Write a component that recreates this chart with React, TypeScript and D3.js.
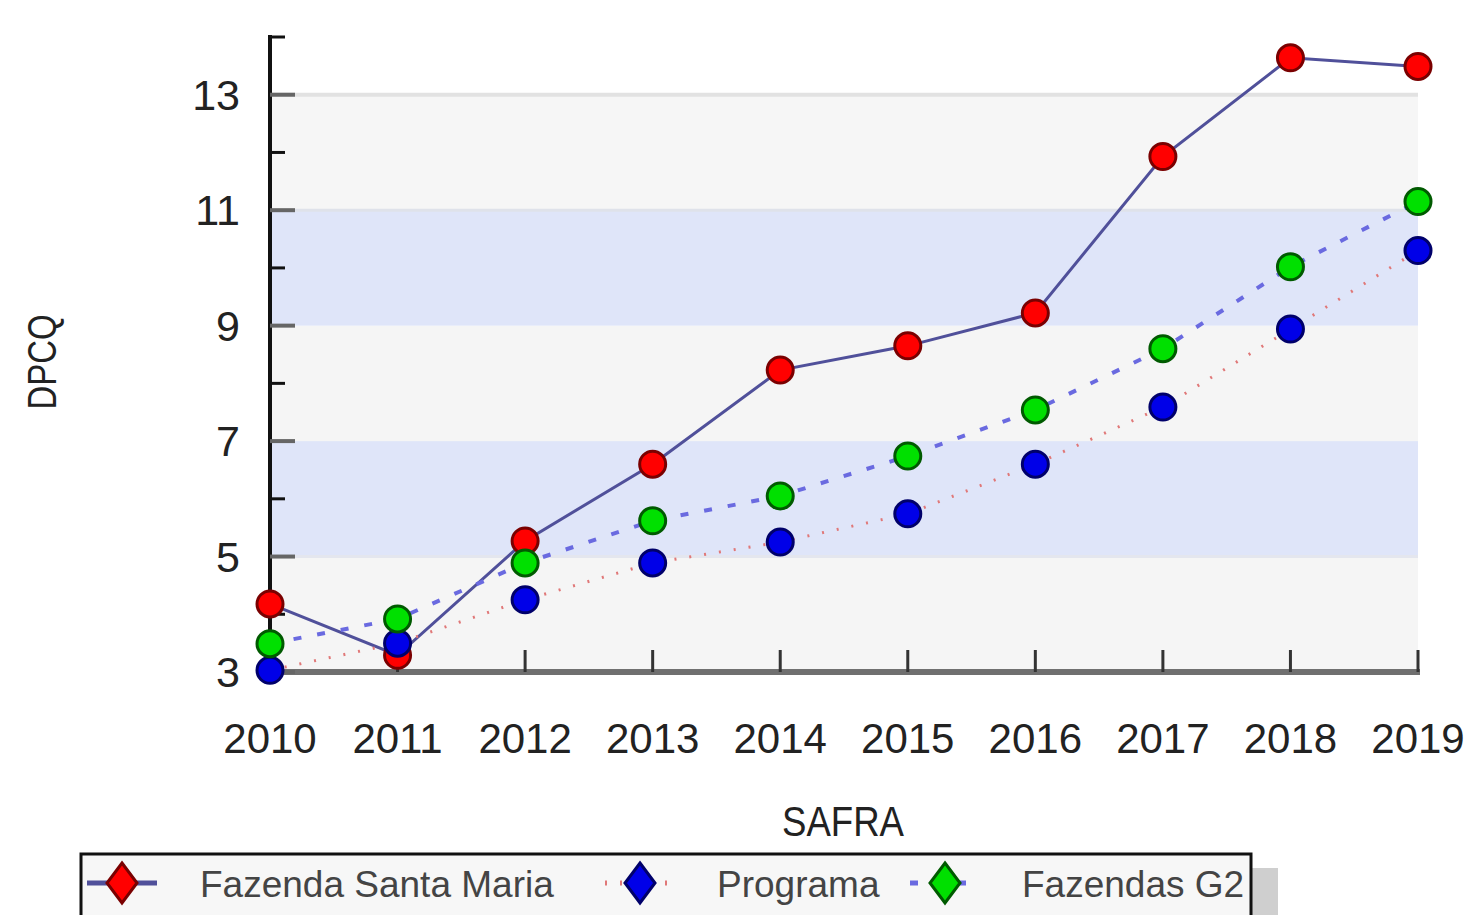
import React from 'react';
import * as d3 from 'd3';

const years = ['2010', '2011', '2012', '2013', '2014', '2015', '2016', '2017', '2018', '2019'];
const santaMaria = [4.18, 3.29, 5.27, 6.6, 8.23, 8.65, 9.22, 11.93, 13.64, 13.49];
const programa = [3.03, 3.5, 4.25, 4.89, 5.25, 5.74, 6.6, 7.59, 8.94, 10.3];
const fazendasG2 = [3.49, 3.92, 4.89, 5.62, 6.05, 6.74, 7.54, 8.6, 10.02, 11.15];
const yLabels = [3, 5, 7, 9, 11, 13];
const yMinor = [4, 6, 8, 10, 12, 14];

const W = 1470;
const H = 915;
const left = 270;
const right = 1418;
const top = 37;
const bottom = 672;

const font = '"Liberation Sans", Arial, sans-serif';

const series = [
  { name: 'Fazenda Santa Maria', values: santaMaria, fill: '#ff0000', stroke: '#7a0000', line: '#50509a', dash: '', width: 3 },
  { name: 'Programa', values: programa, fill: '#0000e8', stroke: '#00006a', line: '#e07878', dash: '2 13', width: 3 },
  { name: 'Fazendas G2', values: fazendasG2, fill: '#00e000', stroke: '#005a00', line: '#6a6ae0', dash: '8 16', width: 4 },
];

const App: React.FC = () => {
  const x = d3.scalePoint<string>().domain(years).range([left, right]);
  const y = d3.scaleLinear().domain([3, 14]).range([bottom, top]);

  const line = d3
    .line<number>()
    .x((_, i) => x(years[i]) as number)
    .y((d) => y(d));

  // alternating bands like the original chart
  const bands = [
    { from: 3, to: 5, color: '#f5f5f5' },
    { from: 5, to: 7, color: '#dfe5f9' },
    { from: 7, to: 9, color: '#f5f5f5' },
    { from: 9, to: 11, color: '#dfe5f9' },
    { from: 11, to: 13, color: '#f6f6f6' },
  ];

  const legendItems = [
    { mx: 122, tx: 200 },
    { mx: 640, tx: 717 },
    { mx: 945, tx: 1022 },
  ];

  return (
    <svg
      width={W}
      height={H}
      style={{ position: 'absolute', left: 0, top: 0, background: '#fff' }}
    >
      {bands.map((b) => (
        <rect
          key={b.from}
          x={left}
          y={y(b.to)}
          width={right - left}
          height={y(b.from) - y(b.to)}
          fill={b.color}
        />
      ))}
      <line x1={left} x2={right} y1={y(13)} y2={y(13)} stroke="#e2e2e2" strokeWidth={4} />
      <line x1={left} x2={right} y1={y(11)} y2={y(11)} stroke="#dfe2ea" strokeWidth={3} />
      <line x1={left} x2={right} y1={y(5)} y2={y(5)} stroke="#e4e6ee" strokeWidth={3} />

      {/* series lines */}
      {series.map((s) => (
        <path
          key={s.name + 'l'}
          d={line(s.values) || ''}
          fill="none"
          stroke={s.line}
          strokeWidth={s.width}
          strokeDasharray={s.dash}
        />
      ))}

      {/* x axis */}
      <line x1={left} x2={right + 2} y1={bottom} y2={bottom} stroke="#707070" strokeWidth={6} />
      {years.slice(1).map((yr) => (
        <line key={yr} x1={x(yr)} x2={x(yr)} y1={bottom - 22} y2={bottom} stroke="#333" strokeWidth={3} />
      ))}
      {years.map((yr) => (
        <text
          key={yr + 't'}
          x={x(yr)}
          y={753}
          textAnchor="middle"
          fontFamily={font}
          fontSize={42}
          fill="#222"
        >
          {yr}
        </text>
      ))}

      {/* y axis */}
      <line x1={left} x2={left} y1={top - 2} y2={bottom} stroke="#111" strokeWidth={4} />
      {yLabels.map((v) => (
        <line key={v} x1={left} x2={left + 25} y1={y(v)} y2={y(v)} stroke="#666" strokeWidth={4} />
      ))}
      {yMinor.map((v) => (
        <line key={v} x1={left} x2={left + 15} y1={y(v)} y2={y(v)} stroke="#111" strokeWidth={3} />
      ))}
      {yLabels.map((v) => (
        <text
          key={v + 't'}
          x={240}
          y={y(v) + 15}
          textAnchor="end"
          fontFamily={font}
          fontSize={43}
          fill="#222"
        >
          {v}
        </text>
      ))}

      <text x={843} y={836} textAnchor="middle" fontFamily={font} fontSize={42} fill="#222" textLength={122} lengthAdjust="spacingAndGlyphs">
        SAFRA
      </text>
      <text
        transform="translate(56,362) rotate(-90)"
        textAnchor="middle"
        fontFamily={font}
        fontSize={40}
        fill="#222"
        textLength={95}
        lengthAdjust="spacingAndGlyphs"
      >
        DPCQ
      </text>

      {/* markers */}
      {series.map((s) => (
        <g key={s.name + 'm'}>
          {s.values.map((v, i) => (
            <circle
              key={i}
              cx={x(years[i])}
              cy={y(v)}
              r={13}
              fill={s.fill}
              stroke={s.stroke}
              strokeWidth={3}
            />
          ))}
        </g>
      ))}

      {/* legend */}
      <rect x={1252} y={868} width={26} height={60} fill="#cfcfcf" />
      <rect x={81} y={854} width={1170} height={70} fill="#f7f7f7" stroke="#111" strokeWidth={3} />
      {series.map((s, i) => {
        const it = legendItems[i];
        return (
          <g key={s.name + 'g'}>
            <line
              x1={it.mx - 35}
              x2={it.mx + 35}
              y1={883}
              y2={883}
              stroke={s.line}
              strokeWidth={5}
              strokeDasharray={s.dash}
            />
            <path
              d={`M${it.mx},${863} L${it.mx + 15},${883} L${it.mx},${903} L${it.mx - 15},${883} Z`}
              fill={s.fill}
              stroke={s.stroke}
              strokeWidth={3}
            />
            <text x={it.tx} y={897} fontFamily={font} fontSize={37} fill="#444">
              {s.name}
            </text>
          </g>
        );
      })}
    </svg>
  );
};

export default App;
